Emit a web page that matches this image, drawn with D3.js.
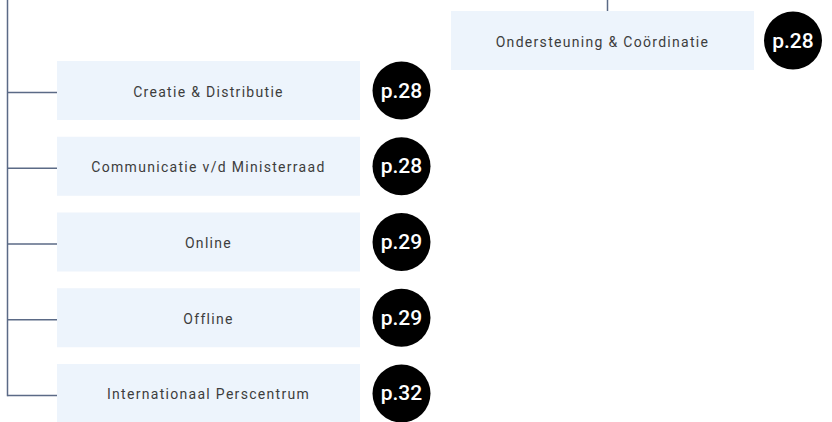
<!DOCTYPE html>
<html>
<head>
<meta charset="utf-8">
<script src="https://cdn.jsdelivr.net/npm/d3@7"></script>
<style>
  body { margin: 0; background: #fff; }
  svg { display: block; }
  .unit { font-family: Roboto, sans-serif; font-size: 14px; fill: #3d3d3d; letter-spacing: 1.3px; }
  .page { font-family: Roboto, sans-serif; font-size: 21px; font-weight: 500; fill: #fff; }
</style>
</head>
<body>
<div id="chart"></div>
<script>
// sub-units hanging off the left trunk, with their page refs
var units = ["Creatie & Distributie", "Communicatie v/d Ministerraad", "Online", "Offline", "Internationaal Perscentrum"];
var pages = ["p.28", "p.28", "p.29", "p.29", "p.32"];
// the unit on the right branch
var topUnits = ["Ondersteuning & Coördinatie"];
var topPages = ["p.28"];

var w = 832, h = 422;
var lineCol = "#5b6a86", boxCol = "#edf4fc";

var svg = d3.select("#chart").append("svg")
  .attr("width", w)
  .attr("height", h);

// rows on the left
var y = d3.scaleBand()
  .domain(units)
  .range([61, 423])
  .paddingInner(0.2211)
  .paddingOuter(0);

var boxX = 57, boxW = 303, trunkX = 7.5, badgeX = 401.5, r = 29;
var linkY = function (d) { return y(d) + y.bandwidth() / 2 + 2; };

// trunk
svg.append("line")
  .attr("x1", trunkX).attr("x2", trunkX)
  .attr("y1", 0).attr("y2", linkY(units[units.length - 1]) + 0.75)
  .attr("stroke", lineCol).attr("stroke-width", 1.5);

var row = svg.selectAll("g.row")
  .data(units)
  .enter()
  .append("g")
  .attr("class", "row");

row.append("line")
  .attr("x1", trunkX).attr("x2", boxX)
  .attr("y1", linkY).attr("y2", linkY)
  .attr("stroke", lineCol).attr("stroke-width", 1.5);

row.append("rect")
  .attr("x", boxX)
  .attr("y", function (d) { return y(d); })
  .attr("width", boxW)
  .attr("height", y.bandwidth())
  .attr("fill", boxCol);

row.append("text")
  .attr("class", "unit")
  .attr("x", boxX + boxW / 2)
  .attr("y", function (d) { return y(d) + y.bandwidth() / 2 + 1; })
  .attr("text-anchor", "middle")
  .attr("dominant-baseline", "central")
  .text(function (d) { return d; });

row.append("circle")
  .attr("cx", badgeX)
  .attr("cy", function (d) { return y(d) + y.bandwidth() / 2; })
  .attr("r", r)
  .attr("fill", "#000");

row.append("text")
  .attr("class", "page")
  .attr("x", badgeX)
  .attr("y", function (d) { return y(d) + y.bandwidth() / 2; })
  .attr("text-anchor", "middle")
  .attr("dominant-baseline", "central")
  .text(function (d, i) { return pages[i]; });

// right branch
var topX = 451, topY = 11, topW = 303, topH = 59, stemX = 607.5, topBadgeX = 793;

svg.append("line")
  .attr("x1", stemX).attr("x2", stemX)
  .attr("y1", 0).attr("y2", topY)
  .attr("stroke", lineCol).attr("stroke-width", 1.5);

var branch = svg.selectAll("g.branch")
  .data(topUnits)
  .enter()
  .append("g")
  .attr("class", "branch");

branch.append("rect")
  .attr("x", topX).attr("y", topY)
  .attr("width", topW).attr("height", topH)
  .attr("fill", boxCol);

branch.append("text")
  .attr("class", "unit")
  .attr("x", topX + topW / 2)
  .attr("y", topY + topH / 2 + 1)
  .attr("text-anchor", "middle")
  .attr("dominant-baseline", "central")
  .text(function (d) { return d; });

branch.append("circle")
  .attr("cx", topBadgeX)
  .attr("cy", topY + topH / 2)
  .attr("r", r)
  .attr("fill", "#000");

branch.append("text")
  .attr("class", "page")
  .attr("x", topBadgeX)
  .attr("y", topY + topH / 2)
  .attr("text-anchor", "middle")
  .attr("dominant-baseline", "central")
  .text(function (d, i) { return topPages[i]; });
</script>
</body>
</html>
